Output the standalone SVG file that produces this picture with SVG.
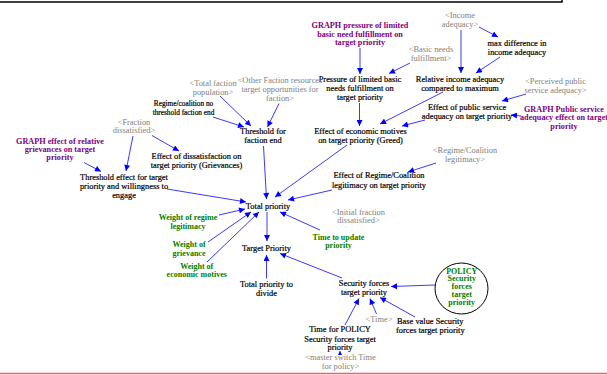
<svg xmlns="http://www.w3.org/2000/svg" width="607" height="375" viewBox="0 0 607 375">
<style>
text{font-family:"Liberation Serif","Times New Roman",serif;font-size:8.4px;text-anchor:middle;fill:#000}
.k{stroke:#000;stroke-width:0.2}
.g{fill:#808080}
.p{fill:#800080;font-weight:bold;font-size:8.2px}
.gr{fill:#008000;font-weight:bold;font-size:8px}
.s{font-size:7.3px}
.c line{stroke:#3a3aff;stroke-width:1;fill:none;marker-end:url(#ah)}
.frame{stroke:#000;stroke-width:1.5;fill:none}
</style>
<defs>
<marker id="ah" viewBox="0 0 10 10" refX="10" refY="5" markerUnits="userSpaceOnUse" markerWidth="7" markerHeight="6" orient="auto">
<path d="M0,0 L10,5 L0,10 Z" fill="#0000ff"/>
</marker>
<marker id="ahs" viewBox="0 0 10 10" refX="10" refY="5" markerUnits="userSpaceOnUse" markerWidth="4" markerHeight="4" orient="auto">
<path d="M0,0 L10,5 L0,10 Z" fill="#0000ff"/>
</marker>
</defs>
<rect width="607" height="375" fill="#fff"/>
<path class="frame" d="M0,2 H562 V0"/>
<line x1="0" y1="373.5" x2="607" y2="373.5" stroke="#ff5a5a" stroke-width="1.5"/>

<g class="c" id="connectors">
<line x1="360" y1="48" x2="360" y2="74"/>
<line x1="479" y1="27" x2="498" y2="37"/>
<line x1="461" y1="30" x2="461" y2="73"/>
<line x1="500" y1="57" x2="476" y2="73"/>
<line x1="410" y1="63" x2="389" y2="73.5"/>
<line x1="359.5" y1="103" x2="359.5" y2="126"/>
<line x1="443" y1="92" x2="380" y2="124"/>
<line x1="526" y1="94" x2="502" y2="101"/>
<line x1="521" y1="116" x2="511" y2="115"/>
<line x1="425" y1="120" x2="402" y2="126"/>
<line x1="213" y1="117" x2="244" y2="127"/>
<line x1="220" y1="96" x2="251" y2="126"/>
<line x1="279" y1="103.5" x2="267.5" y2="127"/>
<line x1="263.5" y1="146" x2="266.5" y2="199"/>
<line x1="347" y1="145" x2="275" y2="197"/>
<line x1="436" y1="163" x2="408" y2="172"/>
<line x1="332" y1="190" x2="288" y2="200"/>
<line x1="152" y1="135.5" x2="179" y2="151"/>
<line x1="133" y1="136" x2="126" y2="171"/>
<line x1="84" y1="162.5" x2="101" y2="171.5"/>
<line x1="167" y1="189" x2="246" y2="202"/>
<line x1="219" y1="215" x2="245" y2="209"/>
<line x1="208" y1="242" x2="251" y2="212"/>
<line x1="207" y1="262" x2="259" y2="212"/>
<line x1="320" y1="230" x2="280" y2="212"/>
<line x1="267" y1="212" x2="267" y2="241"/>
<line x1="266.5" y1="278.5" x2="266.5" y2="255"/>
<line x1="342" y1="278" x2="280" y2="253.5"/>
<line x1="435" y1="285" x2="391" y2="286.5"/>
<line x1="376.5" y1="314" x2="370" y2="298.5"/>
<line x1="415" y1="317" x2="380" y2="297.5"/>
<line x1="345" y1="325" x2="359" y2="298.5"/>
<line x1="340" y1="353.5" x2="340" y2="351" style="marker-end:url(#ahs)"/>
</g>

<g id="graph_pressure"><text class="p"><tspan x="360" y="27.8">GRAPH pressure of limited</tspan><tspan x="360" y="36.5">basic need fulfillment on</tspan><tspan x="360" y="45.2">target priority</tspan></text></g>
<g id="income_adequacy"><text class="g"><tspan x="460" y="17.8">&lt;Income</tspan><tspan x="460" y="26.8">adequacy&gt;</tspan></text></g>
<g id="max_difference"><text class="k"><tspan x="517" y="45.5">max difference in</tspan><tspan x="517" y="54.5">income adequacy</tspan></text></g>
<g id="relative_income"><text class="k"><tspan x="460" y="81.8">Relative income adequacy</tspan><tspan x="460" y="91">compared to maximum</tspan></text></g>
<g id="basic_needs"><text class="g"><tspan x="431" y="52">&lt;Basic needs</tspan><tspan x="431" y="61">fulfillment&gt;</tspan></text></g>
<g id="pressure"><text class="k"><tspan x="360" y="82">Pressure of limited basic</tspan><tspan x="360" y="91.2">needs fulfillment on</tspan><tspan x="360" y="100.4">target priority</tspan></text></g>
<g id="other_faction"><text class="g"><tspan x="280" y="82.8">&lt;Other Faction resources</tspan><tspan x="280" y="91.8">target opportunities for</tspan><tspan x="280" y="100.5">faction&gt;</tspan></text></g>
<g id="total_faction_population"><text class="g"><tspan x="213" y="85.5">&lt;Total faction</tspan><tspan x="213" y="94.5">population&gt;</tspan></text></g>
<g id="regime_no_threshold"><text class="k s"><tspan x="183.5" y="105.8">Regime/coalition no</tspan><tspan x="183.5" y="114.8">threshold faction end</tspan></text></g>
<g id="threshold_faction_end"><text class="k"><tspan x="263" y="134.3">Threshold for</tspan><tspan x="263" y="143.3">faction end</tspan></text></g>
<g id="effect_economic"><text class="k"><tspan x="360.5" y="133.5">Effect of economic motives</tspan><tspan x="360.5" y="143">on target priority (Greed)</tspan></text></g>
<g id="perceived_public"><text class="g"><tspan x="555.5" y="84.3">&lt;Perceived public</tspan><tspan x="555.5" y="93.3">service adequacy&gt;</tspan></text></g>
<g id="effect_public_service"><text class="k"><tspan x="467" y="110">Effect of public service</tspan><tspan x="467" y="118.8">adequacy on target priority</tspan></text></g>
<g id="graph_public_service"><text class="p"><tspan x="564" y="112">GRAPH Public service</tspan><tspan x="564" y="120.2">adequacy effect on target</tspan><tspan x="564" y="128.5">priority</tspan></text></g>
<g id="fraction_dissatisfied"><text class="g"><tspan x="134" y="124.5">&lt;Fraction</tspan><tspan x="134" y="133">dissatisfied&gt;</tspan></text></g>
<g id="effect_dissatisfaction"><text class="k"><tspan x="196.5" y="159">Effect of dissatisfaction on</tspan><tspan x="196.5" y="168">target priority (Grievances)</tspan></text></g>
<g id="graph_grievances"><text class="p"><tspan x="60" y="143.5">GRAPH effect of relative</tspan><tspan x="60" y="152">grievances on target</tspan><tspan x="60" y="160.3">priority</tspan></text></g>
<g id="threshold_effect"><text class="k"><tspan x="124" y="179.5">Threshold effect for target</tspan><tspan x="124" y="188.5">priority and willingness to</tspan><tspan x="124" y="197.8">engage</tspan></text></g>
<g id="regime_legitimacy"><text class="g"><tspan x="465" y="152.8">&lt;Regime/Coalition</tspan><tspan x="465" y="161.8">legitimacy&gt;</tspan></text></g>
<g id="effect_regime"><text class="k"><tspan x="379" y="178.3">Effect of Regime/Coalition</tspan><tspan x="379" y="187.8">legitimacy on target priority</tspan></text></g>
<g id="initial_fraction"><text class="g"><tspan x="358.5" y="214.5">&lt;Initial fraction</tspan><tspan x="358.5" y="223">dissatisfied&gt;</tspan></text></g>
<g id="total_priority"><text class="k"><tspan x="268" y="208.8">Total priority</tspan></text></g>
<g id="weight_regime"><text class="gr"><tspan x="188" y="220">Weight of regime</tspan><tspan x="188" y="228.8">legitimacy</tspan></text></g>
<g id="weight_grievance"><text class="gr"><tspan x="189" y="246.8">Weight of</tspan><tspan x="189" y="255.5">grievance</tspan></text></g>
<g id="weight_economic"><text class="gr"><tspan x="196.7" y="268.8">Weight of</tspan><tspan x="196.7" y="277">economic motives</tspan></text></g>
<g id="time_to_update"><text class="gr"><tspan x="338.5" y="239.5">Time to update</tspan><tspan x="338.5" y="247.8">priority</tspan></text></g>
<g id="target_priority"><text class="k"><tspan x="266.5" y="250.5">Target Priority</tspan></text></g>
<g id="total_priority_divide"><text class="k"><tspan x="266.5" y="286.8">Total priority to</tspan><tspan x="266.5" y="295.5">divide</tspan></text></g>
<g id="security_forces"><text class="k"><tspan x="364" y="286">Security forces</tspan><tspan x="364" y="295">target priority</tspan></text></g>
<g id="policy_security"><ellipse cx="461.5" cy="288.5" rx="26.5" ry="25.5" fill="none" stroke="#000" stroke-width="1"/><text class="gr"><tspan x="461.7" y="273.5">POLICY</tspan><tspan x="461.7" y="281.2">Security</tspan><tspan x="461.7" y="289">forces</tspan><tspan x="461.7" y="296.8">target</tspan><tspan x="461.7" y="304.5">priority</tspan></text></g>
<g id="time"><text class="g"><tspan x="379" y="321.8">&lt;Time&gt;</tspan></text></g>
<g id="base_value"><text class="k"><tspan x="430.3" y="323.8">Base value Security</tspan><tspan x="430.3" y="332.8">forces target priority</tspan></text></g>
<g id="time_for_policy"><text class="k"><tspan x="340" y="332">Time for POLICY</tspan><tspan x="340" y="341.8">Security forces target</tspan><tspan x="340" y="350">priority</tspan></text></g>
<g id="master_switch"><text class="g"><tspan x="340.5" y="360">&lt;master switch Time</tspan><tspan x="340.5" y="368.8">for policy&gt;</tspan></text></g>
</svg>
